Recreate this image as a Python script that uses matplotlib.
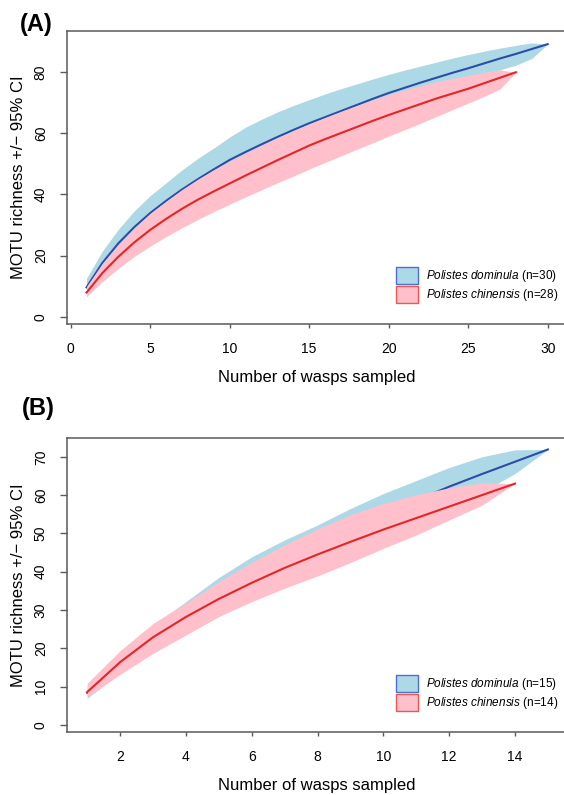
import matplotlib
matplotlib.use('Agg')
import matplotlib.pyplot as plt
from matplotlib.patches import Patch

plt.rcParams['font.family'] = 'Liberation Sans'
plt.rcParams['mathtext.fontset'] = 'custom'
plt.rcParams['mathtext.it'] = 'Liberation Sans:italic'
plt.rcParams['mathtext.rm'] = 'Liberation Sans'

# panel A: 30 P. dominula, 28 P. chinensis
a_dom_x = list(range(1, 31))
a_dom = [9.6, 17.6, 24.0, 29.3, 33.9, 37.9, 41.6, 45.0, 48.2, 51.3,
         53.9, 56.4, 58.8, 61.1, 63.3, 65.3, 67.3, 69.3, 71.3, 73.2,
         74.9, 76.6, 78.2, 79.8, 81.3, 82.9, 84.5, 86.0, 87.6, 89.2]
a_dom_hi = [12.6, 21.5, 28.6, 34.6, 39.6, 43.8, 48.0, 51.8, 55.2, 58.8,
            62.0, 64.6, 67.0, 69.1, 71.0, 72.9, 74.6, 76.2, 77.8, 79.3,
            80.7, 82.0, 83.3, 84.6, 85.8, 86.9, 87.9, 88.8, 89.6, 89.2]
a_dom_lo = [6.6, 13.7, 19.4, 24.0, 28.2, 32.0, 35.2, 38.2, 41.2, 43.8,
            45.8, 48.2, 50.6, 53.1, 55.6, 57.7, 60.0, 62.4, 64.8, 67.1,
            69.1, 71.2, 73.1, 75.0, 76.8, 78.9, 80.8, 82.3, 84.5, 89.2]
a_chi_x = list(range(1, 29))
a_chi = [7.9, 14.3, 19.6, 24.3, 28.4, 32.0, 35.3, 38.3, 41.0, 43.6,
         46.2, 48.7, 51.2, 53.6, 56.0, 58.1, 60.1, 62.1, 64.1, 66.0,
         67.8, 69.6, 71.4, 73.0, 74.6, 76.4, 78.2, 80.0]
a_chi_hi = [9.9, 17.5, 23.6, 29.0, 33.8, 37.8, 41.6, 45.0, 48.1, 50.9,
            53.6, 56.1, 58.6, 60.9, 63.1, 65.2, 67.2, 69.1, 71.0, 72.7,
            74.2, 75.6, 76.9, 78.0, 79.0, 80.0, 80.8, 80.0]
a_chi_lo = [6.5, 11.5, 15.8, 19.7, 23.1, 26.2, 29.1, 31.8, 34.4, 36.8,
            39.2, 41.5, 43.8, 46.0, 48.3, 50.5, 52.6, 54.8, 56.9, 59.1,
            61.2, 63.3, 65.5, 67.7, 69.9, 72.1, 74.5, 80.0]

# panel B: 15 P. dominula, 14 P. chinensis
b_dom_x = list(range(1, 16))
b_dom = [8.4, 16.3, 23.3, 29.0, 34.0, 38.6, 43.0, 47.0, 50.9, 54.6,
         58.6, 62.2, 65.5, 68.7, 71.9]
b_dom_hi = [10.3, 19.0, 26.0, 32.2, 38.5, 43.9, 48.3, 52.2, 56.5, 60.4,
            63.8, 67.2, 70.0, 71.8, 71.9]
b_dom_lo = [7.0, 13.5, 20.2, 25.6, 29.5, 33.3, 37.7, 41.8, 45.3, 48.8,
            52.6, 56.4, 60.8, 65.6, 71.9]
b_chi_x = list(range(1, 15))
b_chi = [8.6, 16.4, 22.9, 28.2, 32.9, 37.1, 41.0, 44.5, 47.8, 51.0,
         54.0, 57.0, 60.0, 63.0]
b_chi_hi = [10.9, 19.4, 26.5, 31.9, 37.4, 42.5, 47.0, 51.2, 54.9, 57.8,
            60.1, 61.9, 63.2, 63.0]
b_chi_lo = [7.4, 13.2, 18.7, 23.5, 28.3, 32.2, 35.7, 38.9, 42.4, 46.1,
            49.6, 53.5, 57.4, 63.0]

blue_fill = '#ADD8E6'
pink_fill = '#FFC0CB'
blue_line = '#2B4DA8'
red_line = '#E32626'
spine_col = '#5a5a5a'

fig = plt.figure(figsize=(5.64, 7.95), dpi=100)

panels = [
    dict(pos=[0.1193, 0.5921, 0.8842, 0.3693], xlim=(-0.21, 31.15), ylim=(-2.49, 93.6),
         xticks=[0, 5, 10, 15, 20, 25, 30], yticks=[0, 20, 40, 60, 80],
         dom=(a_dom_x, a_dom, a_dom_lo, a_dom_hi), chi=(a_chi_x, a_chi, a_chi_lo, a_chi_hi),
         n=(30, 28), tag='(A)', tag_xy=(36.7, 25), leg_y=266.7),
    dict(pos=[0.1193, 0.0792, 0.8842, 0.3694], xlim=(0.395, 15.55), ylim=(-1.83, 74.8),
         xticks=[2, 4, 6, 8, 10, 12, 14], yticks=[0, 10, 20, 30, 40, 50, 60, 70],
         dom=(b_dom_x, b_dom, b_dom_lo, b_dom_hi), chi=(b_chi_x, b_chi, b_chi_lo, b_chi_hi),
         n=(15, 14), tag='(B)', tag_xy=(38.7, 408), leg_y=675.0),
]

for p in panels:
    ax = fig.add_axes(p['pos'])
    # draw order: blue band, blue line, pink band, red line
    x, m, lo, hi = p['dom']
    ax.fill_between(x, lo, hi, color=blue_fill, lw=0, zorder=1)
    ax.plot(x, m, color=blue_line, lw=1.5, zorder=2)
    x, m, lo, hi = p['chi']
    ax.fill_between(x, lo, hi, color=pink_fill, lw=0, zorder=3)
    ax.plot(x, m, color=red_line, lw=1.5, zorder=4)

    ax.set_xlim(p['xlim'])
    ax.set_ylim(p['ylim'])
    ax.set_xticks(p['xticks'])
    ax.set_yticks(p['yticks'])
    for s in ax.spines.values():
        s.set_color(spine_col)
        s.set_linewidth(1.1)
    ax.spines['right'].set_visible(False)
    ax.tick_params(axis='x', length=3, width=1, color=spine_col, pad=10, labelsize=10)
    ax.tick_params(axis='y', length=5, width=1, color=spine_col, pad=9, labelsize=10,
                   labelrotation=90)
    for lab in ax.get_yticklabels():
        lab.set_va('center')

    ax.set_xlabel('Number of wasps sampled', fontsize=12, labelpad=10)
    ax.set_ylabel('MOTU richness +/\u2212 95% CI', fontsize=12, labelpad=6)

    handles = [Patch(facecolor=blue_fill, edgecolor='#4C70CF', lw=1),
               Patch(facecolor=pink_fill, edgecolor='#EE5555', lw=1)]
    labels = [r'$\it{Polistes\ dominula}$ (n=%d)' % p['n'][0],
              r'$\it{Polistes\ chinensis}$ (n=%d)' % p['n'][1]]
    fig.legend(handles, labels, loc='upper left',
               bbox_to_anchor=(396 / 564, 1 - p['leg_y'] / 795),
               frameon=False, fontsize=8.5, handlelength=1.84, handleheight=1.84,
               labelspacing=0.15, handletextpad=0.7, borderpad=0, borderaxespad=0)

    fig.text(p['tag_xy'][0] / 564, 1 - p['tag_xy'][1] / 795, p['tag'],
             fontsize=17, fontweight='bold', ha='center', va='center')

fig.savefig('out.png', dpi=100)
